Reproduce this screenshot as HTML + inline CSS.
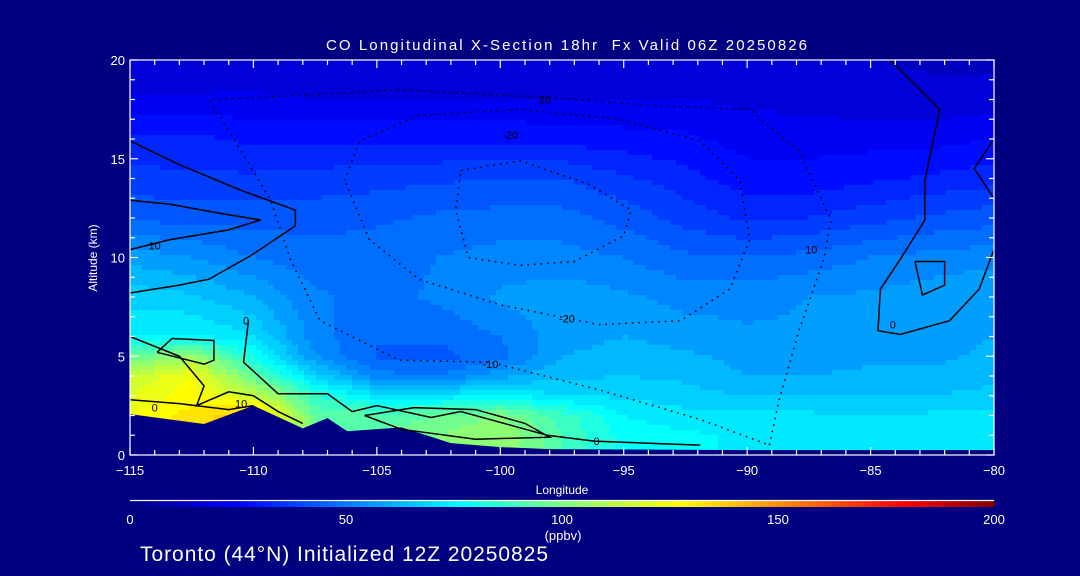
<!DOCTYPE html>
<html><head><meta charset="utf-8">
<style>
html,body{margin:0;padding:0;background:#000080;}
svg{display:block;}
text{font-family:"Liberation Sans",sans-serif;fill:#fff;}
</style></head>
<body>
<svg id="chart" width="1080" height="576" xmlns="http://www.w3.org/2000/svg">
<rect x="0" y="0" width="1080" height="576" fill="#000080"/>
<g id="cells"></g>
<g id="terrain"></g>
<g id="contours"></g>
<g id="axes"></g>
<g id="cbar"></g>
<text x="326" y="50" font-size="15" textLength="481" lengthAdjust="spacing" xml:space="preserve">CO Longitudinal X-Section 18hr  Fx Valid 06Z 20250826</text>
<text x="562" y="494" text-anchor="middle" font-size="12">Longitude</text>
<text transform="translate(97,258) rotate(-90)" text-anchor="middle" font-size="12">Altitude (km)</text>
<text x="563" y="540" text-anchor="middle" font-size="13">(ppbv)</text>
<text x="140" y="561" font-size="21" textLength="408" lengthAdjust="spacing">Toronto (44°N) Initialized 12Z 20250825</text>
</svg>
<script>
const lons = [-115,-112.5,-110,-107.5,-105,-102.5,-100,-97.5,-95,-92.5,-90,-87.5,-85,-82.5,-80];
const alts = [20,18,16,14,12,10,8,6,5,4,3,2,1,0];
const co20 = [15,15,16,16,16,16,16,16,16,16,16,15,15,14,14];
const co18 = [21,21,21,20,20,20,20,20,20,20,19,18,17,17,17];
const co16 = [31,31,29,29,29,29,29,28,27,26,23,23,23,23,25];
const co14 = [37,36,36,37,38,39,40,40,36,32,27,27,29,31,33];
const co12 = [44,43,43,43,44,46,47,47,43,38,34,35,38,41,43];
const co10 = [58,55,50,47,48,50,52,52,50,46,45,47,50,52,53];
const co8  = [68,66,60,51,48,51,56,58,56,53,53,55,56,58,60];
const co6  = [75,76,70,52,46,46,50,58,60,58,56,56,58,58,60];
const co5  = [95,105,80,55,44,43,48,60,62,61,58,58,59,59,61];
const co4  = [115,125,95,68,52,50,58,64,65,64,60,60,61,61,63];
const co3  = [120,128,115,85,72,72,76,70,69,67,65,65,65,65,67];
const co2  = [125,132,140,95,92,95,100,88,75,72,72,71,70,71,72];
const co1  = [125,132,140,95,95,100,105,90,78,76,74,74,72,74,74];
const co0  = [125,132,140,95,95,100,105,90,78,76,74,74,72,74,74];
const coRows = [co20,co18,co16,co14,co12,co10,co8,co6,co5,co4,co3,co2,co1,co0];

const terrainLon = [-115,-112,-110,-108,-107,-106.2,-104,-102,-100,-98,-95,-90,-85,-80];
const terrainAlt = [2.07,1.57,2.5,1.35,1.87,1.2,1.4,0.6,0.4,0.3,0.28,0.25,0.25,0.25];

const xTicks = [-115,-110,-105,-100,-95,-90,-85,-80];
const yTicks = [0,5,10,15,20];
const cbTicks = [0,50,100,150,200];

const cMinus30 = [[-101.6,14.4],[-99.2,14.9],[-96.4,13.7],[-94.7,12.4],[-95.0,11.1],[-97.0,9.8],[-99.2,9.6],[-101.3,10.0],[-101.8,12.4],[-101.6,14.4]];
const cMinus20 = [[-106.3,13.9],[-105.7,15.9],[-103.3,17.2],[-99.2,17.5],[-95.2,17.0],[-91.9,15.9],[-90.3,13.9],[-89.9,10.9],[-90.7,8.4],[-92.7,6.8],[-96.0,6.6],[-100.0,7.6],[-103.3,8.9],[-105.3,10.9],[-106.3,13.9]];
const cMinus10 = [[-89.1,0.5],[-88.7,2.8],[-87.9,6.3],[-86.9,9.9],[-86.6,11.9],[-87.9,15.4],[-89.9,17.5],[-93.9,17.7],[-98.1,18.1],[-104.1,18.5],[-108.1,18.2],[-111.8,18.0],[-110.5,15.4],[-109.3,12.9],[-108.5,9.9],[-107.3,6.8],[-104.1,4.8],[-100.4,4.7],[-96.0,3.3],[-91.9,1.8],[-89.1,0.5]];
const cPlusA = [[-115,15.9],[-113,14.7],[-110.5,13.4],[-108.3,12.4],[-108.3,11.6],[-110.1,10.1],[-111.8,8.9],[-113,8.6],[-115,8.2]];
const cPlusB = [[-115,12.9],[-113.4,12.7],[-111.2,12.2],[-109.7,11.9],[-111,11.4],[-113.4,10.9],[-115,10.4]];
const cZero = [[-110.2,6.8],[-110.4,4.7],[-109.0,3.1],[-107.0,3.1],[-106.0,2.2],[-105.0,2.5],[-102.8,1.9],[-101.6,2.2],[-98.1,1.0],[-96.2,0.7],[-91.9,0.5]];
const cYellow = [[-113.9,5.2],[-113.3,5.9],[-111.6,5.8],[-111.6,4.8],[-112,4.6],[-113.9,5.2]];
const cPlusC = [[-115,6.0],[-113,5.0],[-112,3.5],[-112.3,2.5],[-111,3.2],[-110,3.0],[-109,2.2],[-108,1.6]];
const cLowA = [[-115,2.8],[-113,2.6],[-111,2.3],[-110,2.5]];
const cLowB = [[-105.5,2.0],[-103.5,2.4],[-101,2.3],[-99,1.6],[-98,0.9],[-101,0.8],[-104,1.3],[-105.5,2.0]];
const cRight = [[-84.2,20],[-82.2,17.5],[-82.8,13.9],[-82.8,11.9],[-83.8,9.9],[-84.6,8.4],[-84.7,6.3],[-83.8,6.1],[-81.8,6.8],[-80.6,8.4],[-80,10.4]];
const cRightLoop = [[-83.2,9.8],[-82,9.8],[-82,8.6],[-82.9,8.1],[-83.2,9.8]];
const cRightTop = [[-80,16],[-80.8,14.5],[-80,13]];

const solidLines = [cPlusA,cPlusB,cZero,cYellow,cPlusC,cLowA,cLowB,cRight,cRightLoop,cRightTop];
const solidNames = ['contour-plus10-a','contour-plus10-b','contour-zero','contour-high-loop','contour-plus10-c','contour-low-a','contour-low-b','contour-right','contour-right-loop','contour-right-top'];
const dottedLines = [cMinus30,cMinus20,cMinus10];
const dottedNames = ['contour-minus30','contour-minus20','contour-minus10'];

const labelText = ['-10','-20','-20','10','10','0','0','10','0','10','0'];
const labelLon = [-100.4,-97.3,-99.6,-98.2,-87.4,-84.1,-96.1,-114.0,-114.0,-110.5,-110.3];
const labelAlt = [4.6,6.9,16.2,18.0,10.4,6.6,0.7,10.6,2.4,2.6,6.8];

const X0=130,X1=994,Y0=455,Y1=60;
const xs = lon => X0 + (lon+115)/35*(X1-X0);
const ys = alt => Y0 - alt/20*(Y0-Y1);
const NS='http://www.w3.org/2000/svg';

const cstops=[[0,0,0,128],[25,0,0,255],[77,0,255,255],[100,128,255,128],[127,255,255,0],[179,255,0,0],[200,128,0,0]];
function cmap(v){
  v=Math.max(0,Math.min(200,v));
  for(let i=0;i<cstops.length-1;i++){
    const a=cstops[i],b=cstops[i+1];
    if(v<=b[0]){const t=(v-a[0])/(b[0]-a[0]);
      return `rgb(${Math.round(a[1]+(b[1]-a[1])*t)},${Math.round(a[2]+(b[2]-a[2])*t)},${Math.round(a[3]+(b[3]-a[3])*t)})`;}
  }
  return 'rgb(128,0,0)';
}
function field(lon,alt){
  let i=0; while(i<lons.length-2 && lon>lons[i+1]) i++;
  let j=0; while(j<alts.length-2 && alt<alts[j+1]) j++;
  const tx=Math.max(0,Math.min(1,(lon-lons[i])/(lons[i+1]-lons[i])));
  const ty=Math.max(0,Math.min(1,(alt-alts[j])/(alts[j+1]-alts[j])));
  const a=coRows[j][i],b=coRows[j][i+1],c=coRows[j+1][i],d=coRows[j+1][i+1];
  return (a*(1-tx)+b*tx)*(1-ty)+(c*(1-tx)+d*tx)*ty;
}
const cells=document.getElementById('cells');
const CW=6,CH=5;
for(let py=Y1;py<Y0;py+=CH){
  for(let px=X0;px<X1;px+=CW){
    const lon=-115+(px+CW/2-X0)/(X1-X0)*35;
    const alt=(Y0-(py+CH/2))/(Y0-Y1)*20;
    let v=field(lon,alt);
    v=Math.floor(v/5)*5+2.5;
    const r=document.createElementNS(NS,'rect');
    r.setAttribute('x',px);r.setAttribute('y',py);
    r.setAttribute('width',Math.min(CW,X1-px)+0.5);r.setAttribute('height',Math.min(CH,Y0-py)+0.5);
    r.setAttribute('fill',cmap(v));
    
    
    cells.appendChild(r);
  }
}
const terr=document.getElementById('terrain');
let tp=`M${xs(terrainLon[0])},${Y0}`;
terrainLon.forEach((l,k)=>{tp+=` L${xs(l)},${ys(terrainAlt[k])}`;});
tp+=` L${X1},${Y0} Z`;
const tpath=document.createElementNS(NS,'path');
tpath.setAttribute('d',tp);tpath.setAttribute('fill','#000080');


terr.appendChild(tpath);
const cg=document.getElementById('contours');
function poly(pts,dotted,name){
  const p=document.createElementNS(NS,'polyline');
  p.setAttribute('points',pts.map(q=>xs(q[0])+','+ys(q[1])).join(' '));
  p.setAttribute('fill','none');p.setAttribute('stroke','#000');
  p.setAttribute('stroke-width',dotted?'1.6':'1.5');
  if(dotted){p.setAttribute('stroke-dasharray','1.6 5');}
  
  
  cg.appendChild(p);
}
solidLines.forEach((l,k)=>poly(l,false,solidNames[k]));
dottedLines.forEach((l,k)=>poly(l,true,dottedNames[k]));
labelText.forEach((t,k)=>{
  const tx=document.createElementNS(NS,'text');
  tx.setAttribute('x',xs(labelLon[k]));tx.setAttribute('y',ys(labelAlt[k])+4);
  tx.setAttribute('font-size','11');tx.setAttribute('text-anchor','middle');
  tx.setAttribute('style','fill:#000');
  tx.textContent=t;
  
  
  cg.appendChild(tx);
});
const ax=document.getElementById('axes');
function line(x1,y1,x2,y2,name){
  const l=document.createElementNS(NS,'line');
  l.setAttribute('x1',x1);l.setAttribute('y1',y1);l.setAttribute('x2',x2);l.setAttribute('y2',y2);
  l.setAttribute('stroke','#fff');l.setAttribute('stroke-width','1.2');
  
  
  ax.appendChild(l);
}
function txt(x,y,s,anchor,size,name,parent){
  const t=document.createElementNS(NS,'text');
  t.setAttribute('x',x);t.setAttribute('y',y);t.setAttribute('text-anchor',anchor);t.setAttribute('font-size',size);
  t.textContent=s;
  
  
  parent.appendChild(t);
}
const frame=document.createElementNS(NS,'rect');
frame.setAttribute('x',X0);frame.setAttribute('y',Y1);frame.setAttribute('width',X1-X0);frame.setAttribute('height',Y0-Y1);
frame.setAttribute('fill','none');frame.setAttribute('stroke','#fff');frame.setAttribute('stroke-width','1.2');


ax.appendChild(frame);
for(let l=-115;l<=-80;l++){
  const major=(l%5===0);const len=major?8:5;
  line(xs(l),Y0,xs(l),Y0-len,'x-tick');
  line(xs(l),Y1,xs(l),Y1+len,'x-tick-top');
}
for(let a=0;a<=20;a++){
  const major=(a%5===0);const len=major?8:5;
  line(X0,ys(a),X0+len,ys(a),'y-tick');
  line(X1,ys(a),X1-len,ys(a),'y-tick-right');
}
xTicks.forEach(l=>txt(xs(l),475,(l<0?'\u2212':'')+Math.abs(l),'middle',13,'x-tick-label',ax));
yTicks.forEach(a=>txt(125,ys(a)+5,String(a),'end',13,'y-tick-label',ax));
const cb=document.getElementById('cbar');
const cbs=v=>X0+v/200*(X1-X0);
for(let v=0;v<200;v+=1){
  const r=document.createElementNS(NS,'rect');
  r.setAttribute('x',cbs(v));r.setAttribute('y',501);r.setAttribute('width',(X1-X0)/200+0.6);r.setAttribute('height',6);
  r.setAttribute('fill',cmap(v+0.5));
  
  
  cb.appendChild(r);
}
const cbl=document.createElementNS(NS,'line');
cbl.setAttribute('x1',X0);cbl.setAttribute('x2',X1);cbl.setAttribute('y1',500.5);cbl.setAttribute('y2',500.5);
cbl.setAttribute('stroke','#fff');cbl.setAttribute('stroke-width','1.2');


cb.appendChild(cbl);
cbTicks.forEach(v=>txt(cbs(v),524,String(v),'middle',13,'colorbar-tick-label',cb));
</script>
</body></html>
